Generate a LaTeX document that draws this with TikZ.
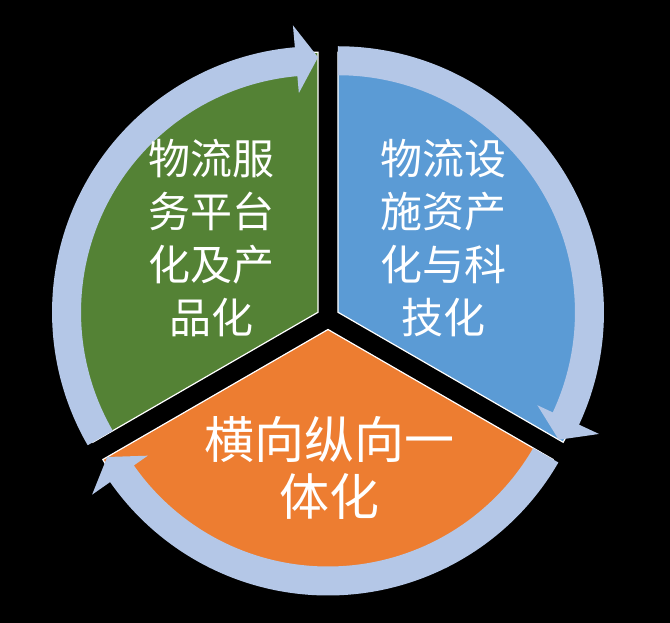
\documentclass[tikz,border=0pt]{standalone}
\usepackage{fontspec}
\usepackage{tikz}
\usetikzlibrary{calc}
\newfontfamily\cjk{Noto Sans CJK SC}
\definecolor{leafgreen}{HTML}{548235}
\definecolor{skyblue}{HTML}{5B9BD5}
\definecolor{tangerine}{HTML}{ED7D31}
\definecolor{ringblue}{HTML}{B4C7E7}
\tikzset{
  slice/.style={draw=white, line width=1.2pt},
  ring/.style={fill=ringblue},
  label/.style={text=white, align=center, font=\cjk\fontsize{42pt}{53pt}\selectfont}
}

\begin{document}
\begin{tikzpicture}[x=1pt,y=1pt]
\path[use as bounding box, fill=black] (-328,-305) rectangle (342,318);
\coordinate (G) at (150:11.5pt);
\coordinate (B) at (30:11.5pt);
\coordinate (O) at (270:11.5pt);
% pie slices
\filldraw[slice, fill=leafgreen] (G) -- ($(G)+(90:260pt)$) arc[start angle=90, end angle=210, radius=260pt] -- cycle;
\filldraw[slice, fill=skyblue] (B) -- ($(B)+(-30:260pt)$) arc[start angle=-30, end angle=90, radius=260pt] -- cycle;
\filldraw[slice, fill=tangerine] (O) -- ($(O)+(210:260pt)$) arc[start angle=210, end angle=330, radius=260pt] -- cycle;
% arrows round the pie
\fill[ring] ($(G)+(210:266pt)$) arc[start angle=210, end angle=95, radius=266pt]
  -- ($(G)+(95:288pt)$) -- ($(G)+(90:255pt)$) -- ($(G)+(95:220pt)$)
  -- ($(G)+(95:237pt)$) arc[start angle=95, end angle=210, radius=237pt] -- cycle;
\fill[ring] ($(B)+(90:266pt)$) arc[start angle=90, end angle=-25, radius=266pt]
  -- ($(B)+(-25:288pt)$) -- ($(B)+(-30:255pt)$) -- ($(B)+(-25:220pt)$)
  -- ($(B)+(-25:237pt)$) arc[start angle=-25, end angle=90, radius=237pt] -- cycle;
\fill[ring] ($(O)+(-30:266pt)$) arc[start angle=-30, end angle=-145, radius=266pt]
  -- ($(O)+(-145:288pt)$) -- ($(O)+(-150:255pt)$) -- ($(O)+(-145:220pt)$)
  -- ($(O)+(-145:237pt)$) arc[start angle=-145, end angle=-30, radius=237pt] -- cycle;
% texts
\node[label] (platform) at (-116,80) {物流服\\务平台\\化及产\\品化};
\node[label] (assets) at (116,80) {物流设\\施资产\\化与科\\技化};
\node[label, font=\cjk\fontsize{50pt}{57pt}\selectfont] (integration) at (2,-150) {横向纵向一\\体化};
\end{tikzpicture}
\end{document}
